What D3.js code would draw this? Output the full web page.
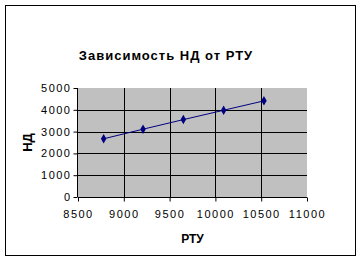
<!DOCTYPE html>
<html>
<head>
<meta charset="utf-8">
<script src="https://cdn.jsdelivr.net/npm/d3@7"></script>
<style>
  body { margin: 0; background: #fff; }
  text { font-family: "Liberation Sans", Arial, sans-serif; }
</style>
</head>
<body>
<div id="chart"></div>
<script>
// values
let rtu = [8780, 9210, 9650, 10090, 10530];
let nd = [2670, 3110, 3550, 3980, 4410];
let xTicks = [8500, 9000, 9500, 10000, 10500, 11000];
let yTicks = [0, 1000, 2000, 3000, 4000, 5000];

const width = 362, height = 262;
const plot = { left: 78, right: 307, top: 88, bottom: 197 };

let svg = d3.select('#chart').append('svg')
    .attr('width', width)
    .attr('height', height);

// outer frame
svg.append('rect')
    .attr('x', 5.5).attr('y', 5.5)
    .attr('width', 350).attr('height', 250)
    .attr('fill', '#fff')
    .attr('stroke', '#000');

let x = d3.scaleLinear().domain([8500, 11000]).range([plot.left, plot.right]);
let y = d3.scaleLinear().domain([0, 5000]).range([plot.bottom, plot.top]);

// plot area
svg.append('rect')
    .attr('x', plot.left).attr('y', plot.top)
    .attr('width', plot.right - plot.left)
    .attr('height', plot.bottom - plot.top)
    .attr('fill', '#c0c0c0');

// gridlines
svg.append('g')
    .selectAll('line.hgrid')
    .data(yTicks.filter(d => d > 0 && d < 5000))
    .enter().append('line')
    .attr('x1', plot.left).attr('x2', plot.right)
    .attr('y1', d => Math.round(y(d)) + 0.5).attr('y2', d => Math.round(y(d)) + 0.5)
    .attr('stroke', '#000');

svg.append('g')
    .selectAll('line.vgrid')
    .data(xTicks.filter(d => d > 8500 && d < 11000))
    .enter().append('line')
    .attr('y1', plot.top).attr('y2', plot.bottom)
    .attr('x1', d => Math.round(x(d)) + 0.5).attr('x2', d => Math.round(x(d)) + 0.5)
    .attr('stroke', '#000');

// axes
let xAxis = svg.append('g')
    .attr('transform', `translate(0,${plot.bottom + 0.5})`)
    .call(d3.axisBottom(x).tickValues(xTicks).tickSize(4).tickPadding(9).tickFormat(d3.format('d')));
let yAxis = svg.append('g')
    .attr('transform', `translate(${plot.left - 0.5},0)`)
    .call(d3.axisLeft(y).tickValues(yTicks).tickSize(4).tickPadding(2).tickFormat(d3.format('d')));

[xAxis, yAxis].forEach(a => {
    a.select('.domain').attr('stroke', '#000');
    a.selectAll('.tick line').attr('stroke', '#000');
    a.selectAll('.tick text')
        .attr('fill', '#000')
        .style('font-size', '11px')
        .style('letter-spacing', '1.5px')
        .style('font-family', '"Liberation Sans", Arial, sans-serif');
});
xAxis.select('.domain').attr('d', `M${plot.left},0H${plot.right}`);
yAxis.select('.domain').attr('d', `M0,${plot.top}V${plot.bottom}`);

// series
let pts = rtu.map((d, i) => [d, nd[i]]);
svg.append('path')
    .datum(pts)
    .attr('fill', 'none')
    .attr('stroke', '#000080')
    .attr('stroke-width', 1)
    .attr('d', d3.line().x(d => x(d[0])).y(d => y(d[1])));

svg.append('g')
    .selectAll('path')
    .data(pts)
    .enter().append('path')
    .attr('transform', d => `translate(${x(d[0])},${y(d[1])})`)
    .attr('d', d3.symbol().type(d3.symbolDiamond).size(26))
    .attr('fill', '#000080');

// titles
svg.append('text')
    .attr('x', 166).attr('y', 60)
    .attr('text-anchor', 'middle')
    .style('font-size', '13px')
    .style('font-weight', 'bold')
    .style('letter-spacing', '1px')
    .text('Зависимость НД от РТУ');

svg.append('text')
    .attr('x', (plot.left + plot.right) / 2).attr('y', 243)
    .attr('text-anchor', 'middle')
    .style('font-size', '12px')
    .style('font-weight', 'bold')
    .text('РТУ');

svg.append('text')
    .attr('transform', `translate(32,${(plot.top + plot.bottom) / 2}) rotate(-90)`)
    .attr('text-anchor', 'middle')
    .style('font-size', '13px')
    .style('font-weight', 'bold')
    .text('НД');
</script>
</body>
</html>
